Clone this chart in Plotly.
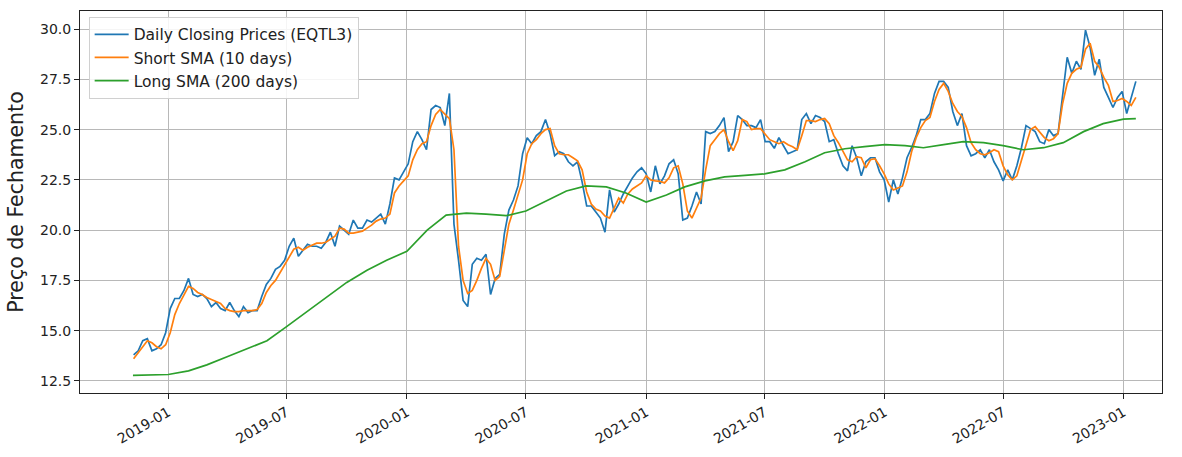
import pandas as pd
import plotly.graph_objects as go

price_dates = pd.date_range("2018-11-09", "2023-01-20", freq="W-FRI")
close_prices = [
    13.8, 14.0, 14.5, 14.6, 14.0, 14.1, 14.3, 14.9, 16.1, 16.6,
    16.6, 17.0, 17.6, 16.8, 16.7, 16.8, 16.6, 16.2, 16.4, 16.1,
    16.0, 16.4, 16.0, 15.7, 16.2, 15.9, 16.0, 16.0, 16.7, 17.3,
    17.6, 18.05, 18.2, 18.5, 19.2, 19.6, 18.7, 19.0, 19.3, 19.2,
    19.2, 19.1, 19.4, 19.9, 19.2, 20.2, 20.0, 19.8, 20.5, 20.1,
    20.1, 20.5, 20.4, 20.6, 20.8, 20.3, 21.3, 22.6, 22.5, 22.9,
    23.3, 24.4, 24.9, 24.5, 24.0, 26.0, 26.2, 26.1, 25.2, 26.8,
    20.3, 18.5, 16.5, 16.2, 18.3, 18.6, 18.5, 18.8, 16.8, 17.6,
    17.8, 19.8, 21.0, 21.5, 22.2, 23.8, 24.6, 24.3, 24.7, 24.9,
    25.5, 24.8, 23.7, 23.9, 23.8, 23.4, 23.2, 23.4, 22.4, 21.2,
    21.2, 20.9, 20.6, 19.9, 22.0, 20.9, 21.3, 21.8, 22.2, 22.6,
    22.9, 23.1, 22.8, 21.9, 23.2, 22.3, 22.7, 23.3, 23.5, 22.8,
    20.5, 20.6, 21.2, 21.9, 21.3, 24.9, 24.8, 24.9, 25.2, 25.6,
    23.9, 24.4, 25.7, 25.5, 25.2, 25.2, 25.1, 25.5, 24.4, 24.4,
    24.07, 24.6, 24.2, 23.8, 23.9, 24.0, 25.5, 25.8, 25.3, 25.7,
    25.6, 25.4, 24.4, 24.5, 23.8, 23.2, 22.95, 24.2, 23.6, 22.7,
    23.4, 23.6, 23.6, 22.9, 22.5, 21.4, 22.5, 21.8, 22.6, 23.6,
    24.1, 24.7, 25.5, 25.5, 25.8, 26.8, 27.4, 27.4, 27.1, 25.9,
    25.2, 25.8, 24.2, 23.7, 23.8, 24.0, 23.6, 24.0, 23.4, 23.0,
    22.45, 23.0, 22.5, 23.2, 24.1, 25.2, 25.05, 24.9, 24.4, 24.3,
    25.0, 24.7, 24.8, 26.8, 28.6, 27.8, 28.4, 28.0, 29.95, 29.1,
    27.7, 28.5, 27.1, 26.6, 26.1, 26.6, 26.9, 25.8, 26.6, 27.4,
]

short_sma = [
    13.6, 13.9, 14.2, 14.5, 14.4, 14.2, 14.1, 14.3, 14.9, 15.8,
    16.35, 16.75, 17.2, 17.1, 16.9, 16.8, 16.65, 16.55, 16.45, 16.35,
    16.1, 16.0, 15.95, 15.95, 16.0, 16.0, 16.0, 16.05, 16.35, 16.9,
    17.25, 17.5, 17.9, 18.3, 18.7, 19.05, 19.15, 19.0, 19.15, 19.25,
    19.35, 19.35, 19.4, 19.55, 19.7, 20.1, 20.05, 19.85, 19.85, 19.9,
    19.95, 20.1, 20.25, 20.45, 20.55, 20.6, 20.8, 21.85, 22.2, 22.45,
    22.7, 23.5, 24.0, 24.3, 24.4, 25.2, 25.75, 26.0, 25.75, 25.55,
    24.0, 19.2, 17.5, 16.85, 17.0, 17.5, 18.1, 18.6, 18.3, 17.5,
    17.7, 18.9, 20.3, 21.0, 21.7, 22.5, 23.8, 24.3, 24.5, 24.8,
    25.0, 25.05, 24.2, 23.8, 23.75, 23.75, 23.6, 23.45, 23.0, 21.9,
    21.3, 21.05, 20.95, 20.7, 20.6, 21.1, 21.6, 21.35, 21.8, 22.05,
    22.2, 22.35, 22.7, 22.5, 22.45, 22.43, 22.35, 22.6, 23.1, 23.2,
    22.3, 20.95, 20.6, 21.1, 21.6, 23.0, 24.2, 24.5, 24.8, 25.0,
    24.4, 23.95, 24.45, 25.5, 25.4, 25.0, 25.05, 25.05, 24.8, 24.5,
    24.4, 24.3, 24.4, 24.25, 24.15, 24.0, 24.7, 25.45, 25.45, 25.4,
    25.5, 25.55, 25.3, 24.7, 24.35, 23.9, 23.5, 23.4, 23.65, 23.6,
    23.1, 23.5, 23.55, 23.2, 22.8, 22.3, 22.0, 22.1, 22.2, 22.9,
    23.9, 24.6, 25.1, 25.45, 25.6, 26.4, 27.0, 27.3, 26.9, 26.3,
    25.9, 25.65, 25.1, 24.35, 24.0, 23.8, 23.75, 23.85, 24.0, 23.9,
    23.2, 22.75, 22.5, 22.7, 23.5, 24.2, 25.0, 25.15, 24.9, 24.6,
    24.45, 24.55, 24.8, 26.3, 27.3, 27.8, 28.0, 28.1, 29.0, 29.3,
    28.4, 28.1, 27.6, 27.2, 26.4, 26.45, 26.55, 26.4, 26.2, 26.6,
]

long_dates = [
    "2018-11-08", "2018-12-01", "2019-01-01", "2019-02-01", "2019-03-01",
    "2019-04-01", "2019-05-01", "2019-06-01", "2019-07-01", "2019-08-01",
    "2019-09-01", "2019-10-01", "2019-11-01", "2019-12-01", "2020-01-01",
    "2020-02-01", "2020-03-01", "2020-04-01", "2020-05-01", "2020-06-01",
    "2020-07-01", "2020-08-01", "2020-09-01", "2020-10-01", "2020-11-01",
    "2020-12-01", "2021-01-01", "2021-02-01", "2021-03-01", "2021-04-01",
    "2021-05-01", "2021-06-01", "2021-07-01", "2021-08-01", "2021-09-01",
    "2021-10-01", "2021-11-01", "2021-12-01", "2022-01-01", "2022-02-01",
    "2022-03-01", "2022-04-01", "2022-05-01", "2022-06-01", "2022-07-01",
    "2022-08-01", "2022-09-01", "2022-10-01", "2022-11-01", "2022-12-01",
    "2023-01-01", "2023-01-20",
]
long_sma = [
    12.78, 12.8, 12.82, 13.0, 13.3,
    13.7, 14.1, 14.5, 15.2, 15.95,
    16.7, 17.4, 18.0, 18.5, 18.95,
    20.0, 20.75, 20.85, 20.8, 20.72,
    20.95, 21.45, 21.95, 22.2, 22.15,
    21.85, 21.4, 21.75, 22.15, 22.45,
    22.65, 22.72, 22.8, 23.0, 23.4,
    23.85, 24.05, 24.15, 24.25, 24.2,
    24.1, 24.25, 24.4, 24.35, 24.2,
    24.0, 24.1, 24.35, 24.9, 25.3,
    25.52, 25.55,
]

y_ticks = [12.5, 15.0, 17.5, 20.0, 22.5, 25.0, 27.5, 30.0]

fig = go.Figure()
fig.add_trace(go.Scatter(x=price_dates, y=close_prices, mode="lines",
                         name="Daily Closing Prices (EQTL3)",
                         line=dict(color="#1f77b4", width=1.7)))
fig.add_trace(go.Scatter(x=price_dates, y=short_sma, mode="lines",
                         name="Short SMA (10 days)",
                         line=dict(color="#ff7f0e", width=1.7)))
fig.add_trace(go.Scatter(x=long_dates, y=long_sma, mode="lines",
                         name="Long SMA (200 days)",
                         line=dict(color="#2ca02c", width=1.7)))

axis_common = dict(showline=True, linecolor="#222222", linewidth=1, mirror=True,
                   ticks="outside", ticklen=5, tickcolor="#222222",
                   showgrid=True, gridcolor="#b8b8b8", gridwidth=1,
                   zeroline=False,
                   tickfont=dict(family="DejaVu Sans", size=14, color="#222222"))

fig.update_layout(
    width=1182, height=457,
    margin=dict(l=80, r=20, t=10, b=60),
    paper_bgcolor="white", plot_bgcolor="white",
    font=dict(family="DejaVu Sans", color="#222222"),
    showlegend=True,
    legend=dict(x=0.008, y=0.985, xanchor="left", yanchor="top",
                bgcolor="rgba(255,255,255,0.85)", bordercolor="#d0d0d0",
                borderwidth=1, font=dict(family="DejaVu Sans", size=15.5),
                tracegroupgap=0, itemwidth=34),
    xaxis=dict(range=["2018-08-19", "2023-03-01"], type="date",
               tick0="2019-01-01", dtick="M6", tickformat="%Y-%m",
               tickangle=-30, **axis_common),
    yaxis=dict(range=[11.9, 30.9], tickvals=y_ticks,
               ticktext=[f"{v:.1f}" for v in y_ticks],
               title=dict(text="Preço de Fechamento", standoff=10,
                          font=dict(family="DejaVu Sans", size=20.5)),
               **axis_common),
)

fig.write_html("out.html",
               config={"displayModeBar": False},
               post_script="document.body.style.margin='0';document.body.style.overflow='hidden';")
